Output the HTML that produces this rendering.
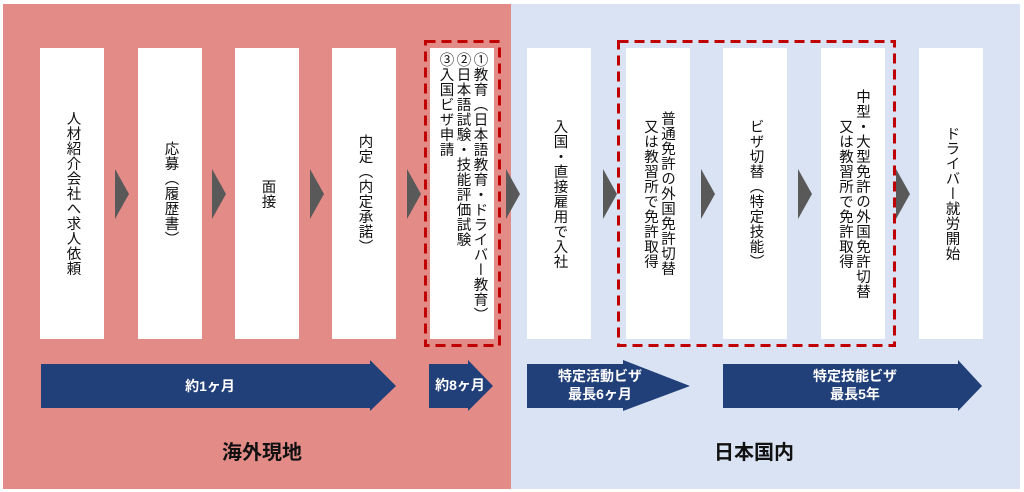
<!DOCTYPE html>
<html><head><meta charset="utf-8"><style>
body{margin:0;width:1024px;height:492px;background:#fff;position:relative;overflow:hidden;font-family:"Liberation Sans","Noto Sans CJK JP",sans-serif;}
.a{position:absolute}
.box{position:absolute;top:48px;height:291px;width:64px;background:#fff;display:flex;justify-content:center;align-items:center;}
.v{writing-mode:vertical-rl;font-size:14.5px;line-height:17px;color:#111;text-align:center;letter-spacing:0.5px;}
.tri{position:absolute;top:169px;width:0;height:0;border-top:25px solid transparent;border-bottom:25px solid transparent;border-left:14px solid #595959;}
.lbl{position:absolute;color:#fff;font-weight:bold;font-size:14px;text-align:center;line-height:18px;}
.big{position:absolute;font-weight:bold;font-size:20px;color:#111;}
</style></head><body>
<div class="a" style="left:3px;top:4px;width:508px;height:485px;background:#e38b87"></div>
<div class="a" style="left:511px;top:4px;width:509px;height:485px;background:#dae3f3"></div>

<div class="box" style="left:40px"><div class="v">人材紹介会社へ求人依頼</div></div>
<div class="box" style="left:138px"><div class="v">応募（履歴書）</div></div>
<div class="box" style="left:235px"><div class="v">面接</div></div>
<div class="box" style="left:332px"><div class="v">内定（内定承諾）</div></div>
<div class="box" style="left:430px;align-items:flex-start"><div class="v" style="text-align:left;margin-top:4px">①教育（日本語教育・ドライバー教育）<br>②日本語試験・技能評価試験<br>③入国ビザ申請</div></div>
<div class="box" style="left:527px"><div class="v">入国・直接雇用で入社</div></div>
<div class="box" style="left:626px"><div class="v">普通免許の外国免許切替<br>又は教習所で免許取得</div></div>
<div class="box" style="left:723px"><div class="v">ビザ切替（特定技能）</div></div>
<div class="box" style="left:821px"><div class="v">中型・大型免許の外国免許切替<br>又は教習所で免許取得</div></div>
<div class="box" style="left:919px"><div class="v">ドライバー就労開始</div></div>

<div class="tri" style="left:115px"></div>
<div class="tri" style="left:212px"></div>
<div class="tri" style="left:310px"></div>
<div class="tri" style="left:407px"></div>
<div class="tri" style="left:506px"></div>
<div class="tri" style="left:603px"></div>
<div class="tri" style="left:701px"></div>
<div class="tri" style="left:798px"></div>
<div class="tri" style="left:896px"></div>

<svg class="a" style="left:0;top:0" width="1024" height="492">
<rect x="425.5" y="41.5" width="74" height="304" fill="none" stroke="#c00000" stroke-width="3" stroke-dasharray="10,6"/>
<rect x="618.5" y="41.5" width="276" height="304" fill="none" stroke="#c00000" stroke-width="3" stroke-dasharray="10,6"/>
<polygon fill="#213f78" points="41,364 370,364 370,360 396,386 370,411 370,408 41,408"/>
<polygon fill="#213f78" points="429,364 468,364 468,360 493,386 468,411 468,408 429,408"/>
<polygon fill="#213f78" points="527,364 623,364 623,360 690,386 623,411 623,408 527,408"/>
<polygon fill="#213f78" points="723,364 958,364 958,360 982,386 958,411 958,408 723,408"/>
</svg>
<div class="lbl" style="left:160px;top:377px;width:100px">約1ヶ月</div>
<div class="lbl" style="left:425px;top:376px;width:70px">約8ヶ月</div>
<div class="lbl" style="left:535px;top:367px;width:130px">特定活動ビザ<br>最長6ヶ月</div>
<div class="lbl" style="left:790px;top:367px;width:130px">特定技能ビザ<br>最長5年</div>

<div class="big" style="left:222px;top:436px">海外現地</div>
<div class="big" style="left:714px;top:436px">日本国内</div>
</body></html>
